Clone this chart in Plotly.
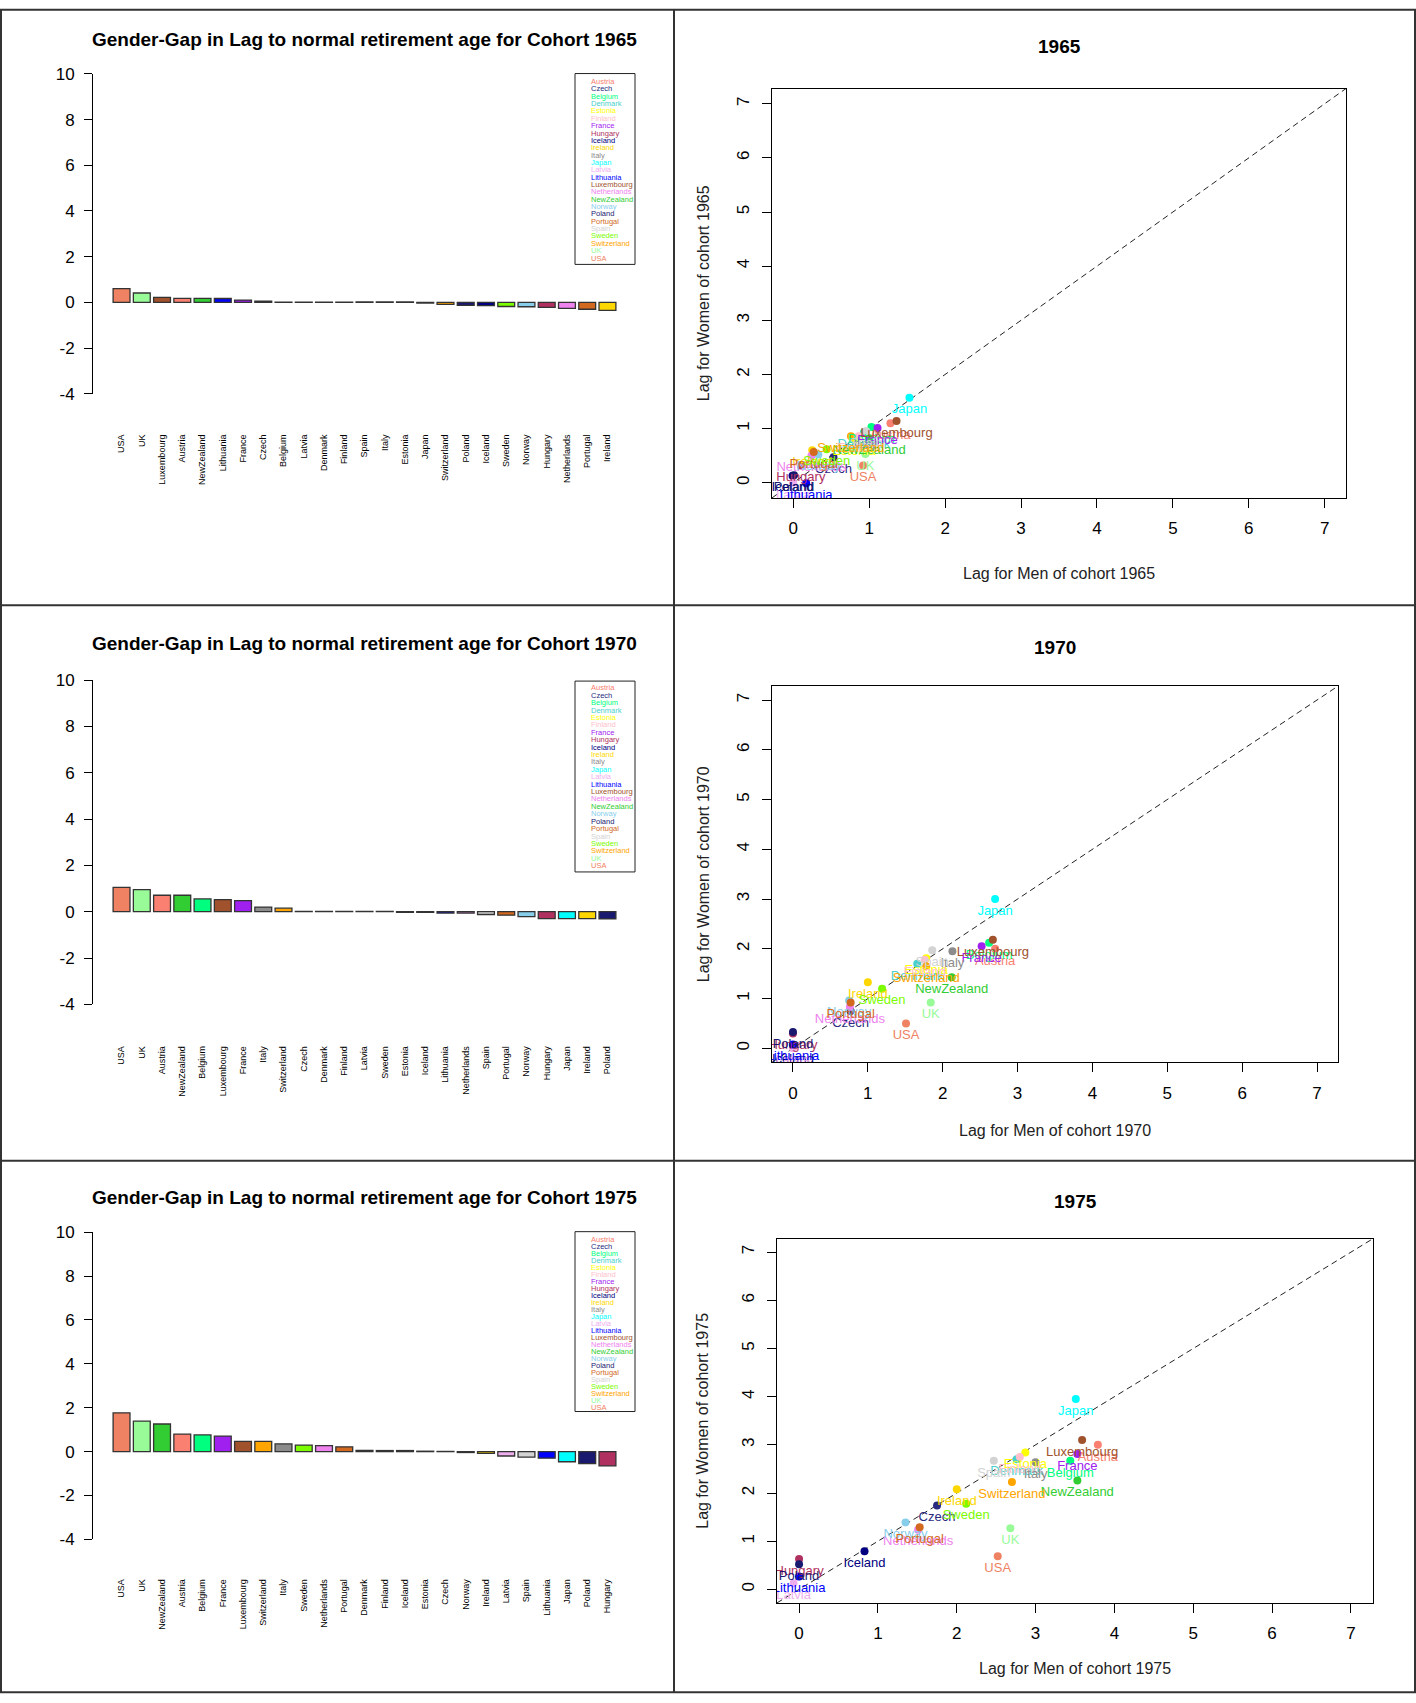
import plotly.graph_objects as go

W, H = 1416, 1703

# countries in legend order, with their colours
countries = ["Austria", "Czech", "Belgium", "Denmark", "Estonia", "Finland", "France",
             "Hungary", "Iceland", "Ireland", "Italy", "Japan", "Latvia", "Lithuania",
             "Luxembourg", "Netherlands", "NewZealand", "Norway", "Poland", "Portugal",
             "Spain", "Sweden", "Switzerland", "UK", "USA"]
colors = ["#FA8072", "#2A2A80", "#00FF7F", "#48D1CC", "#FFFF00", "#FFC0CB", "#A020F0",
          "#B03060", "#000080", "#FFD700", "#8C8C8C", "#00FFFF", "#EEAEEE", "#0000FF",
          "#A0522D", "#EE82EE", "#32CD32", "#87CEEB", "#191970", "#D2691E",
          "#D3D3D3", "#7CFC00", "#FFA500", "#98FB98", "#EE8262"]
color_of = dict(zip(countries, colors))

cohorts = [1965, 1970, 1975]

# gender gap (men lag - women lag), sorted as in the bar charts
bar_order_1965 = ["USA", "UK", "Luxembourg", "Austria", "NewZealand", "Lithuania", "France",
                  "Czech", "Belgium", "Latvia", "Denmark", "Finland", "Spain", "Italy",
                  "Estonia", "Japan", "Switzerland", "Poland", "Iceland", "Sweden", "Norway",
                  "Hungary", "Netherlands", "Portugal", "Ireland"]
bar_gap_1965 = [0.60, 0.41, 0.22, 0.18, 0.18, 0.17, 0.10, 0.05, 0.01, 0.01, 0.01, 0.01,
                0.02, 0.02, 0.02, -0.03, -0.09, -0.13, -0.14, -0.18, -0.19, -0.22,
                -0.26, -0.30, -0.35]

bar_order_1970 = ["USA", "UK", "Austria", "NewZealand", "Belgium", "Luxembourg", "France",
                  "Italy", "Switzerland", "Czech", "Denmark", "Finland", "Latvia", "Sweden",
                  "Estonia", "Iceland", "Lithuania", "Netherlands", "Spain", "Portugal",
                  "Norway", "Hungary", "Japan", "Ireland", "Poland"]
bar_gap_1970 = [1.05, 0.95, 0.71, 0.71, 0.55, 0.52, 0.48, 0.20, 0.15, 0.01, 0.01, 0.01,
                0.01, 0.01, -0.03, -0.03, -0.06, -0.06, -0.12, -0.15, -0.21, -0.30,
                -0.30, -0.30, -0.31]

bar_order_1975 = ["USA", "UK", "NewZealand", "Austria", "Belgium", "France", "Luxembourg",
                  "Switzerland", "Italy", "Sweden", "Netherlands", "Portugal", "Denmark",
                  "Finland", "Iceland", "Estonia", "Czech", "Norway", "Ireland", "Latvia",
                  "Spain", "Lithuania", "Japan", "Poland", "Hungary"]
bar_gap_1975 = [1.77, 1.39, 1.26, 0.80, 0.76, 0.71, 0.47, 0.47, 0.35, 0.30, 0.27, 0.22,
                0.06, 0.05, 0.05, 0.02, 0.01, -0.04, -0.08, -0.20, -0.25, -0.30, -0.46,
                -0.55, -0.65]

# lag for men / women, in legend order
men_1965 = [1.28, 0.53, 1.03, 0.93, 0.80, 0.86, 1.11, 0.10, -0.01, 0.25, 0.95, 1.53, 0.00,
            0.17, 1.36, 0.24, 1.00, 0.33, 0.01, 0.27, 0.96, 0.44, 0.76, 0.95, 0.92]
women_1965 = [1.10, 0.47, 1.03, 0.93, 0.80, 0.86, 1.01, 0.32, 0.13, 0.60, 0.94, 1.57, 0.00,
              -0.01, 1.14, 0.50, 0.82, 0.52, 0.14, 0.57, 0.95, 0.62, 0.86, 0.53, 0.32]

men_1970 = [2.70, 0.77, 2.62, 1.66, 1.78, 1.76, 2.52, 0.00, 0.00, 1.00, 2.13, 2.70, 0.00,
            0.00, 2.67, 0.76, 2.12, 0.75, 0.00, 0.77, 1.86, 1.19, 1.78, 1.84, 1.51]
women_1970 = [2.00, 0.75, 2.12, 1.70, 1.81, 1.78, 2.05, 0.30, 0.03, 1.33, 1.95, 3.00, 0.00,
              0.08, 2.18, 0.83, 1.43, 0.96, 0.33, 0.92, 1.97, 1.20, 1.65, 0.92, 0.50]

men_1975 = [3.79, 1.75, 3.44, 2.76, 2.87, 2.80, 3.53, 0.00, 0.83, 2.00, 3.00, 3.51, -0.07,
            0.00, 3.59, 1.51, 3.53, 1.35, 0.00, 1.53, 2.47, 2.12, 2.70, 2.68, 2.52]
women_1975 = [3.00, 1.74, 2.67, 2.70, 2.84, 2.75, 2.81, 0.63, 0.79, 2.08, 2.64, 3.95, 0.13,
              0.27, 3.10, 1.24, 2.26, 1.39, 0.52, 1.29, 2.67, 1.78, 2.23, 1.27, 0.69]

bar_orders = {1965: bar_order_1965, 1970: bar_order_1970, 1975: bar_order_1975}
bar_gaps = {1965: bar_gap_1965, 1970: bar_gap_1970, 1975: bar_gap_1975}
men = {1965: men_1965, 1970: men_1970, 1975: men_1975}
women = {1965: women_1965, 1970: women_1970, 1975: women_1975}

bar_ticks = [-4, -2, 0, 2, 4, 6, 8, 10]
lag_ticks = [0, 1, 2, 3, 4, 5, 6, 7]

# panel geometry in pixels (as seen on the target picture)
bar_box = {1965: (93, 636, 73.3, 393.5), 1970: (93, 636, 680, 1004.5), 1975: (93, 636, 1232.5, 1540)}
bar_title_y = {1965: 39, 1970: 643, 1975: 1198}
bar_label_off = {1965: 38, 1970: 39, 1975: 37}
legend_box = {1965: (73, 264, 81, 7.36), 1970: (681, 872, 687.7, 7.42), 1975: (1232, 1412, 1240, 6.99)}
sc_box = {1965: (772, 1346, 88, 497.7), 1970: (772, 1338, 686, 1062.5), 1975: (777, 1373, 1239, 1603.5)}
sc_title_y = {1965: 46, 1970: 647, 1975: 1202}
sc_xtitle_y = {1965: 573, 1970: 1131, 1975: 1669}

FONT = "Liberation Sans, Arial, sans-serif"

# the page photo comes out slightly squeezed vertically; undo that
Y_OFF, Y_SCALE = 8.4, 0.9896


def px(x):
    return x / W


def py(y):
    return 1 - ((y - Y_OFF) / Y_SCALE) / H


def label(text, x, y, **kw):
    # centred text placed at a pixel position
    d = dict(text=text, x=px(x), y=py(y), xref="paper", yref="paper",
             xanchor="center", yanchor="middle", showarrow=False)
    d.update(kw)
    return d


fig = go.Figure()
annotations = []
shapes = []
axes = {}

for k, c in enumerate(cohorts):
    nb, ns = 2 * k + 1, 2 * k + 2
    xb = "x" if nb == 1 else f"x{nb}"
    yb = "y" if nb == 1 else f"y{nb}"
    xs, ys = f"x{ns}", f"y{ns}"

    # ---- bar chart
    fig.add_trace(go.Bar(
        x=bar_orders[c], y=bar_gaps[c], xaxis=xb, yaxis=yb,
        marker=dict(color=[color_of[n] for n in bar_orders[c]],
                    line=dict(color="#333333", width=1.3)),
        showlegend=False))
    x0, x1, y0, y1 = bar_box[c]
    axes["xaxis" if nb == 1 else f"xaxis{nb}"] = dict(
        domain=[px(x0), px(x1)], anchor=yb, range=[-1.41, 25.41],
        showgrid=False, zeroline=False, showline=False, ticks="",
        tickangle=-90, tickfont=dict(size=9, color="#000"),
        ticklabelstandoff=bar_label_off[c])
    axes["yaxis" if nb == 1 else f"yaxis{nb}"] = dict(
        domain=[py(y1), py(y0)], anchor=xb, range=[-4, 10],
        showgrid=False, zeroline=False, showline=True, linecolor="#000", linewidth=1,
        ticks="outside", ticklen=8, tickcolor="#000",
        tickvals=bar_ticks, ticktext=[str(t) for t in bar_ticks],
        tickfont=dict(size=17, color="#000"), ticklabelstandoff=6)
    annotations.append(label(
        f"<b>Gender-Gap in Lag to normal retirement age for Cohort {c}</b>",
        364, bar_title_y[c], font=dict(size=19, color="#000")))

    # legend (coloured names only)
    lt, lb, first, step = legend_box[c]
    shapes.append(dict(type="rect", xref="paper", yref="paper",
                       x0=px(575), x1=px(635), y0=py(lb), y1=py(lt),
                       line=dict(color="#222", width=1)))
    for i, n in enumerate(countries):
        annotations.append(label(n, 589, first + i * step, xanchor="left",
                                 font=dict(size=7.5, color=color_of[n])))

    # ---- scatter
    fig.add_trace(go.Scatter(
        x=[-0.28, 7.28], y=[-0.28, 7.28], xaxis=xs, yaxis=ys, mode="lines",
        line=dict(color="#222222", width=1, dash="6px,4px"),
        hoverinfo="skip", showlegend=False))
    fig.add_trace(go.Scatter(
        x=men[c], y=women[c], xaxis=xs, yaxis=ys, mode="markers+text",
        text=countries, textposition="bottom center",
        textfont=dict(size=13, color=colors),
        marker=dict(size=8, color=colors), showlegend=False))
    sx0, sx1, sy0, sy1 = sc_box[c]
    axes[f"xaxis{ns}"] = dict(
        domain=[px(sx0), px(sx1)], anchor=ys, range=[-0.28, 7.28],
        showgrid=False, zeroline=False, showline=True, mirror=True,
        linecolor="#000", linewidth=1, ticks="outside", ticklen=9, tickcolor="#000",
        tickvals=lag_ticks, tickfont=dict(size=17, color="#000"), ticklabelstandoff=6)
    axes[f"yaxis{ns}"] = dict(
        domain=[py(sy1), py(sy0)], anchor=xs, range=[-0.28, 7.28],
        showgrid=False, zeroline=False, showline=True, mirror=True,
        linecolor="#000", linewidth=1, ticks="outside", ticklen=9, tickcolor="#000",
        tickvals=lag_ticks, tickangle=-90, tickfont=dict(size=17, color="#000"),
        ticklabelstandoff=6)
    cx = (sx0 + sx1) / 2
    annotations.append(label(f"<b>{c}</b>", cx, sc_title_y[c],
                             font=dict(size=19, color="#000")))
    annotations.append(label(f"Lag for Men of cohort {c}", cx, sc_xtitle_y[c],
                             font=dict(size=16, color="#222")))
    annotations.append(label(f"Lag for Women of cohort {c}", 703, (sy0 + sy1) / 2,
                             textangle=-90, font=dict(size=16, color="#222")))

# panel frames
frame = dict(color="#333333", width=2)
shapes.append(dict(type="rect", xref="paper", yref="paper", x0=px(1), x1=px(W - 1),
                   y0=0.0005, y1=0.9995, line=frame))
shapes.append(dict(type="line", xref="paper", yref="paper", x0=px(674), x1=px(674),
                   y0=0, y1=1, line=frame))
for yy in (605, 1161):
    shapes.append(dict(type="line", xref="paper", yref="paper", x0=0, x1=1,
                       y0=py(yy), y1=py(yy), line=frame))

fig.update_layout(
    width=W, height=H, margin=dict(l=0, r=0, t=0, b=0),
    paper_bgcolor="white", plot_bgcolor="white",
    font=dict(family=FONT, color="#000"),
    bargap=0.1667, showlegend=False,
    annotations=annotations, shapes=shapes, **axes)

# pin the figure to the window's top-left corner, no page margin
pin = ("document.body.style.margin='0';"
       "document.body.style.overflow='hidden';"
       "var gd=document.getElementById('{plot_id}');"
       "gd.style.position='fixed';gd.style.left='0px';gd.style.top='0px';")
fig.write_html("out.html", post_script=pin, config={"displayModeBar": False})
